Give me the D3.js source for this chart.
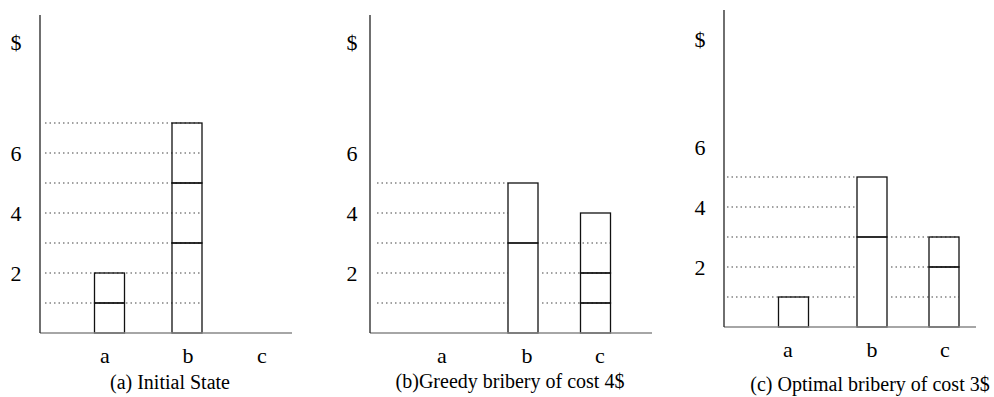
<!DOCTYPE html>
<html>
<head>
<meta charset="utf-8">
<script src="https://cdn.jsdelivr.net/npm/d3@7"></script>
<style>
  body { margin: 0; background: #fff; }
  svg { display: block; }
  .guide { stroke: #444; stroke-width: 1.1; stroke-dasharray: 1.5,3; }
  .chunk { fill: none; stroke: #111; stroke-width: 1.3; }
  .yaxis { stroke: #222; stroke-width: 1.3; }
  .xaxis { stroke: #888; stroke-width: 1.6; }
</style>
</head>
<body>
<div id="chart"></div>
<script>
// data
const categories = ["a", "b", "c"];
const yTicks = [2, 4, 6];

// stacked chunks (in $) per candidate, bottom to top
const initialStacks = [[1, 1], [3, 2, 2], []];
const greedyStacks = [[], [3, 2], [1, 1, 2]];
const optimalStacks = [[1], [3, 2], [2, 1]];

// dotted guide levels: left part (from axis) and right part (after b)
const guideLeftTop = [7, 5, 5];
const guideRightTop = [0, 3, 3];

const captions = ["(a) Initial State", "(b)Greedy bribery of cost 4$", "(c) Optimal bribery of cost 3$"];

// layout of each panel
const panels = [
  {stacks: initialStacks, x0: 40, top: 15, base: 333, xEnd: 292, slots: [69.5, 147, 222], labels: [65, 148, 222],
   dotStart: 45, leftEnd: "right", tickX: 16, dollarY: 42, labelY: 363, capX: 170, capY: 389},
  {stacks: greedyStacks, x0: 370, top: 15, base: 333, xEnd: 652, slots: [72, 153, 225.5], labels: [72, 157, 230],
   dotStart: 377, leftEnd: "left", tickX: 352, dollarY: 42, labelY: 363, capX: 510, capY: 388},
  {stacks: optimalStacks, x0: 724, top: 10, base: 327, xEnd: 976, slots: [69.5, 148, 220], labels: [64, 148, 221],
   dotStart: 727, leftEnd: "left", tickX: 700, dollarY: 39, labelY: 357, capX: 870, capY: 391}
];

const barW = 30, unit = 30;
const serif = "'Liberation Serif', 'Times New Roman', serif";

const svg = d3.select("#chart").append("svg")
  .attr("width", 994)
  .attr("height", 397)
  .style("font-family", serif);

panels.forEach(function(p, pi) {
  let g = svg.append("g");

  let y = d3.scaleLinear()
    .domain([0, 1])
    .range([p.base, p.base - unit]);

  let x = d3.scaleOrdinal()
    .domain(categories)
    .range(p.slots.map((s) => p.x0 + s));

  let xl = d3.scaleOrdinal()
    .domain(categories)
    .range(p.labels.map((s) => p.x0 + s));

  // dotted guides
  let bLeft = x("b") - barW / 2, bRight = x("b") + barW / 2, cRight = x("c") + barW / 2;
  let leftTo = p.leftEnd === "right" ? bRight : bLeft;

  g.selectAll(".guideL")
    .data(d3.range(1, guideLeftTop[pi] + 1))
  .enter().append("line")
    .attr("class", "guide")
    .attr("x1", p.dotStart)
    .attr("x2", leftTo)
    .attr("y1", (d) => y(d))
    .attr("y2", (d) => y(d));

  g.selectAll(".guideR")
    .data(d3.range(1, guideRightTop[pi] + 1))
  .enter().append("line")
    .attr("class", "guide")
    .attr("x1", bRight + 4)
    .attr("x2", cRight)
    .attr("y1", (d) => y(d))
    .attr("y2", (d) => y(d));

  // chunks
  let chunks = [];
  p.stacks.forEach(function(st, ci) {
    let acc = 0;
    st.forEach(function(v) {
      chunks.push({cat: categories[ci], lo: acc, hi: acc + v});
      acc += v;
    });
  });

  g.selectAll(".chunk")
    .data(chunks)
  .enter().append("rect")
    .attr("class", "chunk")
    .attr("x", (d) => x(d.cat) - barW / 2)
    .attr("y", (d) => y(d.hi))
    .attr("width", barW)
    .attr("height", (d) => y(d.lo) - y(d.hi));

  // axes
  g.append("line")
    .attr("class", "xaxis")
    .attr("x1", p.x0).attr("x2", p.xEnd)
    .attr("y1", p.base).attr("y2", p.base);

  g.append("line")
    .attr("class", "yaxis")
    .attr("x1", p.x0).attr("x2", p.x0)
    .attr("y1", p.top).attr("y2", p.base);

  // tick labels
  g.selectAll(".tick")
    .data(yTicks)
  .enter().append("text")
    .attr("x", p.tickX)
    .attr("y", (d) => y(d))
    .attr("dy", "0.35em")
    .attr("text-anchor", "middle")
    .style("font-size", "22px")
    .text((d) => d);

  g.append("text")
    .attr("x", p.tickX)
    .attr("y", p.dollarY)
    .attr("dy", "0.35em")
    .attr("text-anchor", "middle")
    .style("font-size", "22px")
    .text("$");

  g.selectAll(".cat")
    .data(categories)
  .enter().append("text")
    .attr("x", (d) => xl(d))
    .attr("y", p.labelY)
    .attr("text-anchor", "middle")
    .style("font-size", "22px")
    .text((d) => d);

  g.append("text")
    .attr("x", p.capX)
    .attr("y", p.capY)
    .attr("text-anchor", "middle")
    .style("font-size", "20px")
    .text(captions[pi]);
});
</script>
</body>
</html>
